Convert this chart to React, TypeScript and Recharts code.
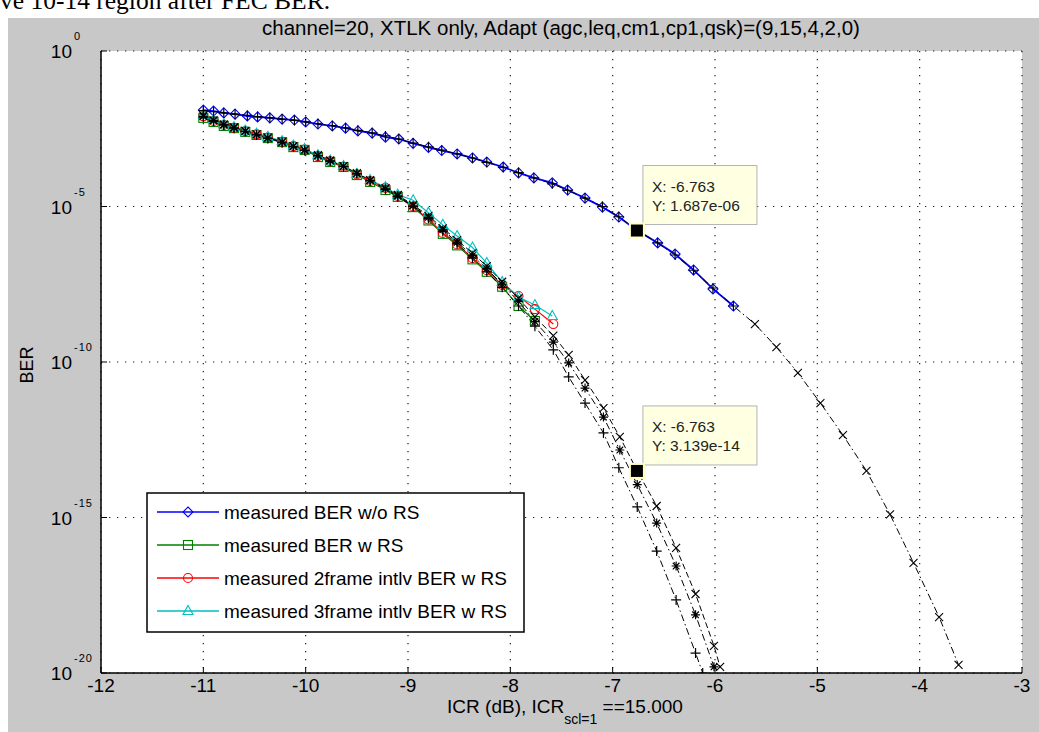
import React from 'react';
import { LineChart, Line, XAxis, YAxis, CartesianGrid, ReferenceDot } from 'recharts';

const SANS = '"Liberation Sans", Arial, Helvetica, sans-serif';
const SERIF = '"Liberation Serif", "Times New Roman", serif';

const xTicks = [-12, -11, -10, -9, -8, -7, -6, -5, -4, -3];
const yTicks = [1e-20, 1e-15, 1e-10, 1e-5, 1];

const titleText = 'channel=20, XTLK only, Adapt (agc,leq,cm1,cp1,qsk)=(9,15,4,2,0)';

const seriesNames = [
  'measured BER w/o RS',
  'measured BER w RS',
  'measured 2frame intlv BER w RS',
  'measured 3frame intlv BER w RS',
];
const seriesColors = ['#0000ff', '#008000', '#ff0000', '#00bfbf'];
const seriesMarks = ['diamond', 'square', 'circle', 'triangle'];

// measured BER w/o RS: ICR (dB) and log10(BER)
const noRsX = [
  -11.0, -10.9, -10.8, -10.69, -10.57, -10.47, -10.35, -10.23, -10.11, -10.0, -9.88, -9.74, -9.61,
  -9.49, -9.35, -9.22, -9.09, -8.95, -8.8, -8.67, -8.52, -8.37, -8.23, -8.07, -7.92, -7.77, -7.59,
  -7.44, -7.27, -7.1, -6.94, -6.76, -6.56, -6.39, -6.21, -6.02, -5.82,
];
const noRsLog = [
  -1.9, -1.93, -1.99, -2.03, -2.09, -2.12, -2.15, -2.19, -2.22, -2.28, -2.35, -2.41, -2.48, -2.57,
  -2.64, -2.77, -2.83, -2.97, -3.1, -3.2, -3.31, -3.44, -3.57, -3.73, -3.92, -4.08, -4.24, -4.47,
  -4.73, -5.02, -5.34, -5.77, -6.17, -6.53, -7.04, -7.65, -8.2,
];
// black fit over the blue points, then its extrapolation
const noRsFitLog = [
  -1.92, -1.95, -1.99, -2.03, -2.07, -2.11, -2.15, -2.19, -2.23, -2.28, -2.34, -2.4, -2.47, -2.55,
  -2.63, -2.73, -2.83, -2.96, -3.08, -3.19, -3.31, -3.44, -3.58, -3.74, -3.91, -4.08, -4.27, -4.48,
  -4.73, -5.0, -5.33, -5.77, -6.17, -6.56, -7.05, -7.62, -8.2,
];
const noRsExtX = [-5.61, -5.4, -5.19, -4.97, -4.75, -4.52, -4.29, -4.06, -3.81, -3.62];
const noRsExtLog = [-8.78, -9.52, -10.35, -11.32, -12.35, -13.5, -14.9, -16.46, -18.2, -19.74];

// measured with RS
const rsX = [
  -11.0, -10.9, -10.8, -10.7, -10.59, -10.48, -10.37, -10.23, -10.12, -10.01, -9.88, -9.76, -9.63,
  -9.5, -9.37, -9.22, -9.1, -8.95, -8.8, -8.66, -8.52, -8.37, -8.23, -8.08, -7.92, -7.76,
];
const rsLog = [
  -2.15, -2.28, -2.41, -2.48, -2.6, -2.7, -2.8, -2.93, -3.09, -3.18, -3.41, -3.57, -3.73, -3.99,
  -4.21, -4.47, -4.69, -5.02, -5.45, -5.88, -6.25, -6.7, -7.1, -7.58, -8.2, -8.68,
];
const intlv2X = [...rsX, -7.58];
const intlv2Log = [
  -2.1, -2.25, -2.38, -2.47, -2.58, -2.68, -2.78, -2.92, -3.06, -3.17, -3.38, -3.55, -3.72, -3.97,
  -4.18, -4.4, -4.66, -5.0, -5.42, -5.85, -6.22, -6.66, -7.05, -7.52, -7.88, -8.3, -8.78,
];
const intlv3X = [...rsX, -7.59];
const intlv3Log = [
  -2.05, -2.2, -2.35, -2.45, -2.56, -2.66, -2.76, -2.9, -3.04, -3.15, -3.35, -3.52, -3.7, -3.95,
  -4.15, -4.38, -4.62, -4.8, -5.2, -5.59, -5.95, -6.32, -6.82, -7.43, -7.91, -8.17, -8.52,
];

// three black fits for the RS curves ('+', '*', 'x' markers)
const fitPlusX = [...rsX, -7.58, -7.43, -7.27, -7.09, -6.94, -6.76, -6.57, -6.38, -6.19, -6.12];
const fitPlusLog = [
  -2.13, -2.26, -2.38, -2.48, -2.59, -2.7, -2.81, -2.95, -3.08, -3.2, -3.37, -3.54, -3.72, -3.95,
  -4.18, -4.45, -4.68, -5.0, -5.38, -5.8, -6.2, -6.65, -7.1, -7.6, -8.2, -8.85,
  -9.61, -10.48, -11.32, -12.28, -13.4, -14.66, -16.08, -17.65, -19.36, -20.0,
];
const fitStarX = [...rsX, -7.58, -7.43, -7.27, -7.09, -6.93, -6.76, -6.57, -6.38, -6.19, -6.01];
const fitStarLog = [
  -2.1, -2.24, -2.37, -2.47, -2.58, -2.69, -2.8, -2.93, -3.07, -3.19, -3.36, -3.53, -3.71, -3.94,
  -4.16, -4.43, -4.66, -4.98, -5.35, -5.75, -6.15, -6.58, -7.0, -7.5, -8.05, -8.7,
  -9.36, -10.03, -10.84, -11.77, -12.83, -13.94, -15.18, -16.56, -18.13, -19.8,
];
const fitCrossX = [...rsX, -7.58, -7.43, -7.27, -7.09, -6.93, -6.76, -6.57, -6.38, -6.19, -6.01, -5.95];
const fitCrossLog = [
  -2.08, -2.22, -2.36, -2.46, -2.57, -2.68, -2.79, -2.92, -3.06, -3.18, -3.35, -3.52, -3.7, -3.93,
  -4.15, -4.41, -4.63, -4.95, -5.3, -5.7, -6.08, -6.5, -6.92, -7.42, -7.95, -8.55,
  -9.15, -9.77, -10.58, -11.48, -12.41, -13.5, -14.63, -15.98, -17.46, -19.13, -19.8,
];

// data tips
const tipX = [-6.763, -6.763];
const tipY = [1.687e-6, 3.139e-14];

const toPoints = (xs: number[], logs: number[]) => xs.map((x, i) => ({ x, y: Math.pow(10, logs[i]) }));

const noRsData = toPoints(noRsX, noRsLog);
const noRsFitData = toPoints([...noRsX, ...noRsExtX], [...noRsFitLog, ...noRsExtLog]);
const rsData = toPoints(rsX, rsLog);
const intlv2Data = toPoints(intlv2X, intlv2Log);
const intlv3Data = toPoints(intlv3X, intlv3Log);
const fitPlusData = toPoints(fitPlusX, fitPlusLog);
const fitStarData = toPoints(fitStarX, fitStarLog);
const fitCrossData = toPoints(fitCrossX, fitCrossLog);

const measured = [noRsData, rsData, intlv2Data, intlv3Data];

const mark = (kind: string, cx: number, cy: number, color: string) => {
  const sw = 1.1;
  switch (kind) {
    case 'diamond':
      return (
        <polygon
          points={`${cx},${cy - 5} ${cx + 5},${cy} ${cx},${cy + 5} ${cx - 5},${cy}`}
          fill="none"
          stroke={color}
          strokeWidth={sw}
        />
      );
    case 'square':
      return <rect x={cx - 4.5} y={cy - 4.5} width={9} height={9} fill="none" stroke={color} strokeWidth={sw} />;
    case 'circle':
      return <circle cx={cx} cy={cy} r={4.5} fill="none" stroke={color} strokeWidth={sw} />;
    case 'triangle':
      return (
        <polygon
          points={`${cx},${cy - 5.5} ${cx + 5},${cy + 3.5} ${cx - 5},${cy + 3.5}`}
          fill="none"
          stroke={color}
          strokeWidth={sw}
        />
      );
    case 'plus':
      return (
        <path d={`M${cx - 5},${cy}H${cx + 5}M${cx},${cy - 5}V${cy + 5}`} stroke={color} strokeWidth={1.2} />
      );
    case 'star':
      return (
        <path
          d={`M${cx - 4.5},${cy}H${cx + 4.5}M${cx},${cy - 4.5}V${cy + 4.5}M${cx - 3.3},${cy - 3.3}L${cx + 3.3},${cy + 3.3}M${cx - 3.3},${cy + 3.3}L${cx + 3.3},${cy - 3.3}`}
          stroke={color}
          strokeWidth={1.2}
        />
      );
    default:
      return (
        <path
          d={`M${cx - 4},${cy - 4}L${cx + 4},${cy + 4}M${cx - 4},${cy + 4}L${cx + 4},${cy - 4}`}
          stroke={color}
          strokeWidth={1.1}
        />
      );
  }
};

const dotOf = (kind: string | ((i: number) => string), color: string, id: string) => (p: any) => {
  const k = typeof kind === 'function' ? kind(p.index) : kind;
  if (p.cx == null || p.cy == null) return <g key={`${id}-${p.index}`} />;
  return <g key={`${id}-${p.index}`}>{mark(k, p.cx, p.cy, color)}</g>;
};

const fmtY = (v: number) => {
  const [m, e] = v.toExponential(3).split('e');
  const n = Number(e);
  return `${m}e${n < 0 ? '-' : '+'}${String(Math.abs(n)).padStart(2, '0')}`;
};

const tipShape = (i: number) => (p: any) => {
  const { cx, cy } = p;
  return (
    <g>
      <rect x={cx + 6} y={cy - 65} width={114} height={59} fill="#ffffe1" stroke="#b4b4b4" strokeWidth={1} />
      <text x={cx + 15} y={cy - 39} fontSize={15.5} fontFamily={SANS} fill="#222">
        {`X: ${tipX[i].toFixed(3)}`}
      </text>
      <text x={cx + 15} y={cy - 20} fontSize={15.5} fontFamily={SANS} fill="#222">
        {`Y: ${fmtY(tipY[i])}`}
      </text>
      <rect x={cx - 7} y={cy - 7} width={14} height={14} fill="#000" stroke="#ffffc0" strokeWidth={2} />
    </g>
  );
};

const BottomTick = (p: any) => (
  <g>
    <line x1={p.x} x2={p.x} y1={p.y} y2={p.y - 6} stroke="#000" strokeWidth={1} />
    <text x={p.x} y={p.y + 19} textAnchor="middle" fontSize={19} fontFamily={SANS} fill="#000">
      {`${p.payload.value}`}
    </text>
  </g>
);

const TopTick = (p: any) => <line x1={p.x} x2={p.x} y1={p.y} y2={p.y + 6} stroke="#000" strokeWidth={1} />;

const RightTick = (p: any) => <line x1={p.x} x2={p.x - 6} y1={p.y} y2={p.y} stroke="#000" strokeWidth={1} />;

const LeftTick = (p: any) => {
  const exp = Math.round(Math.log10(p.payload.value));
  return (
    <g>
      <line x1={p.x} x2={p.x + 6} y1={p.y} y2={p.y} stroke="#000" strokeWidth={1} />
      <text x={p.x - 29} y={p.y + 7} textAnchor="end" fontSize={19} fontFamily={SANS} fill="#000">
        10
      </text>
      <text x={p.x - 27} y={p.y - 11} fontSize={11} fontFamily={SANS} fill="#000" letterSpacing={1}>
        {`${exp}`}
      </text>
    </g>
  );
};

const axisLine = { stroke: '#000', strokeWidth: 1.5 };
const fitDash = '7 3 1.5 3';

export default function App() {
  return (
    <div style={{ position: 'absolute', left: 0, top: 0, width: 1039, height: 732, background: '#fff', overflow: 'hidden' }}>
      <div
        style={{
          position: 'absolute',
          left: 0,
          top: -14,
          fontFamily: SERIF,
          fontSize: 25.5,
          whiteSpace: 'nowrap',
          color: '#000',
        }}
      >
        ve 10-14 region after FEC BER.
      </div>
      <div style={{ position: 'absolute', left: 8, top: 18, right: 0, bottom: 0, background: '#c8c8c8' }} />
      <div style={{ position: 'absolute', left: 0, top: 0 }}>
        <LineChart width={1039} height={732} margin={{ top: 51, right: 17, bottom: 19, left: 41 }}>
          <CartesianGrid stroke="#222" strokeWidth={1.2} strokeDasharray="1.3 6.7" fill="#fff" fillOpacity={1} />
          <XAxis
            dataKey="x"
            type="number"
            domain={[-12, -3]}
            ticks={xTicks}
            interval={0}
            allowDataOverflow
            height={40}
            tickSize={0}
            tickMargin={0}
            tickLine={false}
            axisLine={axisLine}
            tick={(p: any) => <BottomTick {...p} />}
          />
          <XAxis
            xAxisId="top"
            orientation="top"
            dataKey="x"
            type="number"
            domain={[-12, -3]}
            ticks={xTicks}
            interval={0}
            allowDataOverflow
            height={0}
            tickSize={0}
            tickMargin={0}
            tickLine={false}
            axisLine={axisLine}
            tick={(p: any) => <TopTick {...p} />}
          />
          <YAxis
            dataKey="y"
            type="number"
            scale="log"
            domain={[1e-20, 1]}
            ticks={yTicks}
            interval={0}
            allowDataOverflow
            width={60}
            tickSize={0}
            tickMargin={0}
            tickLine={false}
            axisLine={axisLine}
            tick={(p: any) => <LeftTick {...p} />}
          />
          <YAxis
            yAxisId="right"
            orientation="right"
            dataKey="y"
            type="number"
            scale="log"
            domain={[1e-20, 1]}
            ticks={yTicks}
            interval={0}
            allowDataOverflow
            width={0}
            tickSize={0}
            tickMargin={0}
            tickLine={false}
            axisLine={axisLine}
            tick={(p: any) => <RightTick {...p} />}
          />
          {measured.map((d, i) => (
            <Line
              key={seriesNames[i]}
              data={d}
              dataKey="y"
              name={seriesNames[i]}
              stroke={seriesColors[i]}
              strokeWidth={i === 0 ? 1.8 : 1.2}
              dot={dotOf(seriesMarks[i], seriesColors[i], `m${i}`)}
              activeDot={false}
              isAnimationActive={false}
            />
          ))}
          <Line
            data={noRsFitData}
            dataKey="y"
            stroke="#000"
            strokeWidth={1}
            strokeDasharray={fitDash}
            dot={dotOf((i) => (i < noRsX.length ? 'plus' : 'cross'), '#000', 'f0')}
            activeDot={false}
            isAnimationActive={false}
          />
          <Line
            data={fitPlusData}
            dataKey="y"
            stroke="#000"
            strokeWidth={1}
            strokeDasharray={fitDash}
            dot={dotOf('plus', '#000', 'f1')}
            activeDot={false}
            isAnimationActive={false}
          />
          <Line
            data={fitStarData}
            dataKey="y"
            stroke="#000"
            strokeWidth={1}
            strokeDasharray={fitDash}
            dot={dotOf('star', '#000', 'f2')}
            activeDot={false}
            isAnimationActive={false}
          />
          <Line
            data={fitCrossData}
            dataKey="y"
            stroke="#000"
            strokeWidth={1}
            strokeDasharray="6 3"
            dot={dotOf('cross', '#000', 'f3')}
            activeDot={false}
            isAnimationActive={false}
          />
          {tipX.map((x, i) => (
            <ReferenceDot key={`tip${i}`} x={x} y={tipY[i]} r={7} ifOverflow="visible" shape={tipShape(i)} />
          ))}
        </LineChart>
      </div>
      <svg
        width={1039}
        height={732}
        style={{ position: 'absolute', left: 0, top: 0, pointerEvents: 'none' }}
        fontFamily={SANS}
      >
        <text x={561} y={35} textAnchor="middle" fontSize={20.5} fill="#000">
          {titleText}
        </text>
        <text x={565} y={713} textAnchor="middle" fontSize={19} fill="#000">
          ICR (dB), ICR
          <tspan fontSize={14} dy={11}>
            scl=1
          </tspan>
          <tspan fontSize={19} dy={-11}>
            {' ==15.000'}
          </tspan>
        </text>
        <text transform="translate(33,365) rotate(-90)" textAnchor="middle" fontSize={18} fill="#000">
          BER
        </text>
        <rect x={147} y={493} width={377} height={139} fill="#fff" stroke="#000" strokeWidth={1.5} />
        {seriesNames.map((name, i) => {
          const cy = 512 + 33 * i;
          return (
            <g key={name}>
              <line x1={157} x2={219} y1={cy} y2={cy} stroke={seriesColors[i]} strokeWidth={1.5} />
              {mark(seriesMarks[i], 188, cy, seriesColors[i])}
              <text x={224} y={cy + 7} fontSize={19} fill="#000">
                {name}
              </text>
            </g>
          );
        })}
      </svg>
    </div>
  );
}
